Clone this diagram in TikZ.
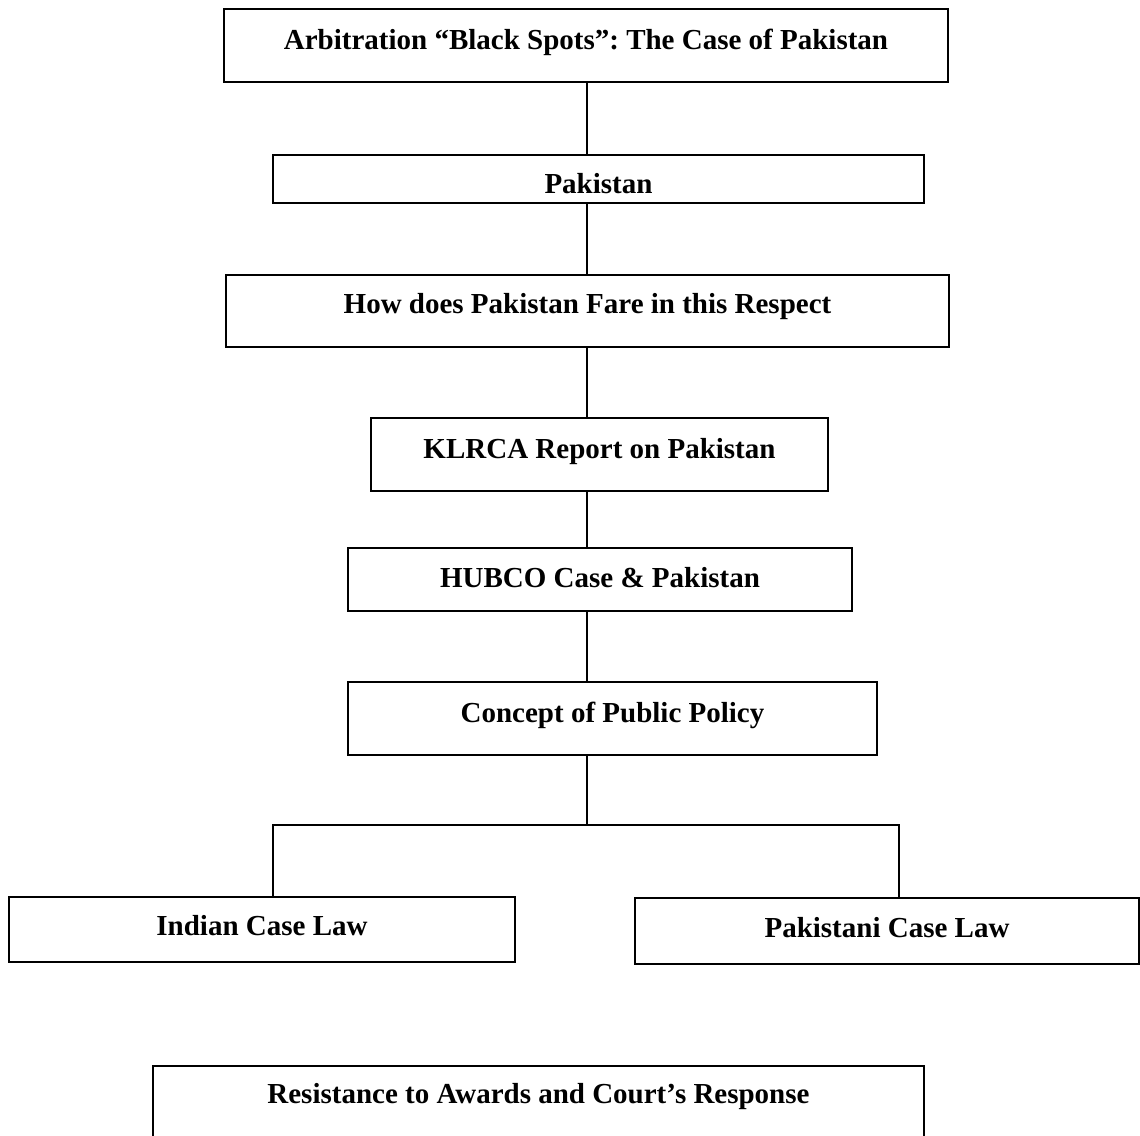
\documentclass[tikz,border=0pt]{standalone}
\usepackage{fontspec}
\setmainfont{Liberation Serif}
\begin{document}
\frenchspacing
\begin{tikzpicture}[x=0.5pt,y=-0.5pt,
  box/.style={draw, line width=1.1pt, rectangle, inner sep=0pt, outer sep=0pt},
  lbl/.style={anchor=base, inner sep=0pt, font=\fontsize{14.5pt}{17pt}\selectfont\bfseries},
  conn/.style={line width=1pt}]
\path[use as bounding box, clip] (0,0) rectangle (1140,1135);
\fill[white] (0,0) rectangle (1140,1135);
% boxes
\node[box, minimum width=362pt, minimum height=36.5pt] (b1) at (586,45.5) {};
\node[box, minimum width=325.5pt, minimum height=24pt] (b2) at (598.5,179) {};
\node[box, minimum width=361.5pt, minimum height=36pt] (b3) at (587.5,311) {};
\node[box, minimum width=228.5pt, minimum height=36.5pt] (b4) at (599.5,454.5) {};
\node[box, minimum width=252pt, minimum height=31.5pt] (b5) at (600,579.5) {};
\node[box, minimum width=264.5pt, minimum height=36.5pt] (b6) at (612.5,718.5) {};
\node[box, minimum width=253pt, minimum height=32.5pt] (b7) at (262,929.5) {};
\node[box, minimum width=252pt, minimum height=33pt] (b8) at (887,931) {};
\node[box, minimum width=385.5pt, minimum height=47pt] (b9) at (538.5,1113) {};
% labels
\node[lbl] (t1) at (586,49) {Arbitration “Black Spots”: The Case of Pakistan};
\node[lbl] (t2) at (598.5,193) {Pakistan};
\node[lbl] (t3) at (587.5,313) {How does Pakistan Fare in this Respect};
\node[lbl] (t4) at (599.5,458) {KLRCA Report on Pakistan};
\node[lbl] (t5) at (600,587) {HUBCO Case \& Pakistan};
\node[lbl] (t6) at (612.5,722) {Concept of Public Policy};
\node[lbl] (t7) at (262,935) {Indian Case Law};
\node[lbl] (t8) at (887,937) {Pakistani Case Law};
\node[lbl] (t9) at (538.5,1103) {Resistance to Awards and Court’s Response};
% connectors
\coordinate (spine) at (587,0);
\coordinate (jl) at (273,825);
\coordinate (jr) at (899,825);
\draw[conn] (b1.south -| spine) -- (b2.north -| spine);
\draw[conn] (b2.south -| spine) -- (b3.north -| spine);
\draw[conn] (b3.south -| spine) -- (b4.north -| spine);
\draw[conn] (b4.south -| spine) -- (b5.north -| spine);
\draw[conn] (b5.south -| spine) -- (b6.north -| spine);
\draw[conn] (b6.south -| spine) -- (spine |- jl);
\draw[conn] (b7.north -| jl) -- (jl) -- (jr) -- (b8.north -| jr);
\end{tikzpicture}
\end{document}
